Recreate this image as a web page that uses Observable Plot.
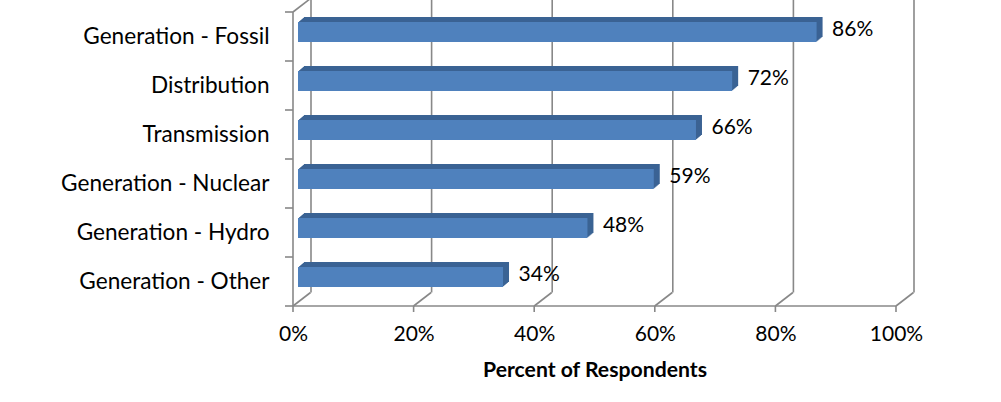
<!DOCTYPE html>
<html>
<head>
<meta charset="utf-8">
<script src="https://cdn.jsdelivr.net/npm/d3@7"></script>
<script src="https://cdn.jsdelivr.net/npm/@observablehq/plot@0.6"></script>
<style>
  html, body { margin: 0; padding: 0; background: #ffffff; }
  #chart svg { display: block; }
</style>
</head>
<body>
<div id="chart"></div>
<script>
// ---- data ----
const categories = [
  "Generation - Fossil",
  "Distribution",
  "Transmission",
  "Generation - Nuclear",
  "Generation - Hydro",
  "Generation - Other"
];
const values = [86, 72, 66, 59, 48, 34];
const xTicks = [0, 20, 40, 60, 80, 100];
const xTitle = "Percent of Respondents";

const data = categories.map((c, i) => ({category: c, value: values[i]}));

// ---- styling ----
const FONT = "Lato, 'Open Sans', sans-serif";
const FS = 21;
const GRID = "#888888";
const FRONT = "#4f81bd";
const DARK = "#3b6394";
const WALL = {dx: 17.5, dy: -13.5};   // depth of the 3D box
const BAR = {dx: 5, dy: -4.5};        // bar front-face offset into the box
const EXTRUDE = 6;                    // bar depth steps (px)

// custom mark: 3D walls, floor edges and tick marks, drawn from Plot's scales
function box3d(index, scales, values, dims) {
  const {x, y} = scales;
  const yTop = dims.marginTop;
  const yBot = dims.height - dims.marginBottom;
  const bw = y.bandwidth ? y.bandwidth() : (yBot - yTop) / categories.length;
  let starts = categories.map(c => y(c));
  if (Math.abs(starts[0] - yTop) > 1) starts = starts.map(s => s - bw / 2);
  const bounds = [...starts, starts[starts.length - 1] + bw];
  const X0 = x(xTicks[0]), X1 = x(xTicks[xTicks.length - 1]);
  const segs = [];
  segs.push([X0, yTop, X0, yBot]);                         // front-left edge
  segs.push([X0, yTop, X0 + WALL.dx, yTop + WALL.dy]);     // top-left depth edge
  segs.push([X0, yBot, X1, yBot]);                         // front floor edge
  for (const t of xTicks) {
    segs.push([x(t), yBot, x(t) + WALL.dx, yBot + WALL.dy]); // floor depth lines
    segs.push([x(t), yBot, x(t), yBot + 6]);                 // x tick marks
  }
  for (const b of bounds) segs.push([X0 - 8, b, X0, b]);    // category boundary ticks
  const ns = "http://www.w3.org/2000/svg";
  const g = document.createElementNS(ns, "g");
  g.setAttribute("stroke", GRID);
  g.setAttribute("stroke-width", 1.6);
  g.setAttribute("fill", "none");
  for (const [a, b, c, d] of segs) {
    const l = document.createElementNS(ns, "line");
    l.setAttribute("x1", a); l.setAttribute("y1", b);
    l.setAttribute("x2", c); l.setAttribute("y2", d);
    g.appendChild(l);
  }
  return g;
}

const extrusion = [];
for (let k = EXTRUDE; k >= 1; k--) {
  extrusion.push(Plot.barX(data, {
    x: "value", y: "category", fill: DARK,
    insetTop: 14.5, insetBottom: 14.5,
    dx: BAR.dx + k, dy: BAR.dy - k * 5 / 6
  }));
}

const chart = Plot.plot({
  width: 1001,
  height: 402,
  marginLeft: 293,
  marginRight: 105,
  marginTop: 12,
  marginBottom: 96,
  style: {fontFamily: FONT, fontSize: FS + "px", color: "#000", background: "#fff"},
  x: {domain: [0, 100]},
  y: {domain: categories, padding: 0},
  marks: [
    Plot.ruleX(xTicks, {x: d => d, dx: WALL.dx, dy: WALL.dy, stroke: GRID, strokeWidth: 1.6}),
    box3d,
    ...extrusion,
    Plot.barX(data, {
      x: "value", y: "category", fill: FRONT,
      insetTop: 14.5, insetBottom: 14.5,
      dx: BAR.dx, dy: BAR.dy
    }),
    Plot.text(data, {
      x: "value", y: "category", text: d => d.value + "%",
      textAnchor: "start", dx: 20, dy: -7.5, fill: "#000", fontSize: FS
    }),
    Plot.axisX({ticks: xTicks, tickFormat: d => d + "%", tickSize: 0, tickPadding: 20, fontSize: FS, fill: "#000", label: null}),
    Plot.axisY({tickSize: 0, tickPadding: 24, fontSize: 22.6, fill: "#000", label: null}),
    Plot.text([xTitle], {frameAnchor: "bottom", dy: 70, fontWeight: "bold", fontSize: 21.2, fill: "#000"})
  ]
});

document.getElementById("chart").appendChild(chart);
</script>
</body>
</html>
